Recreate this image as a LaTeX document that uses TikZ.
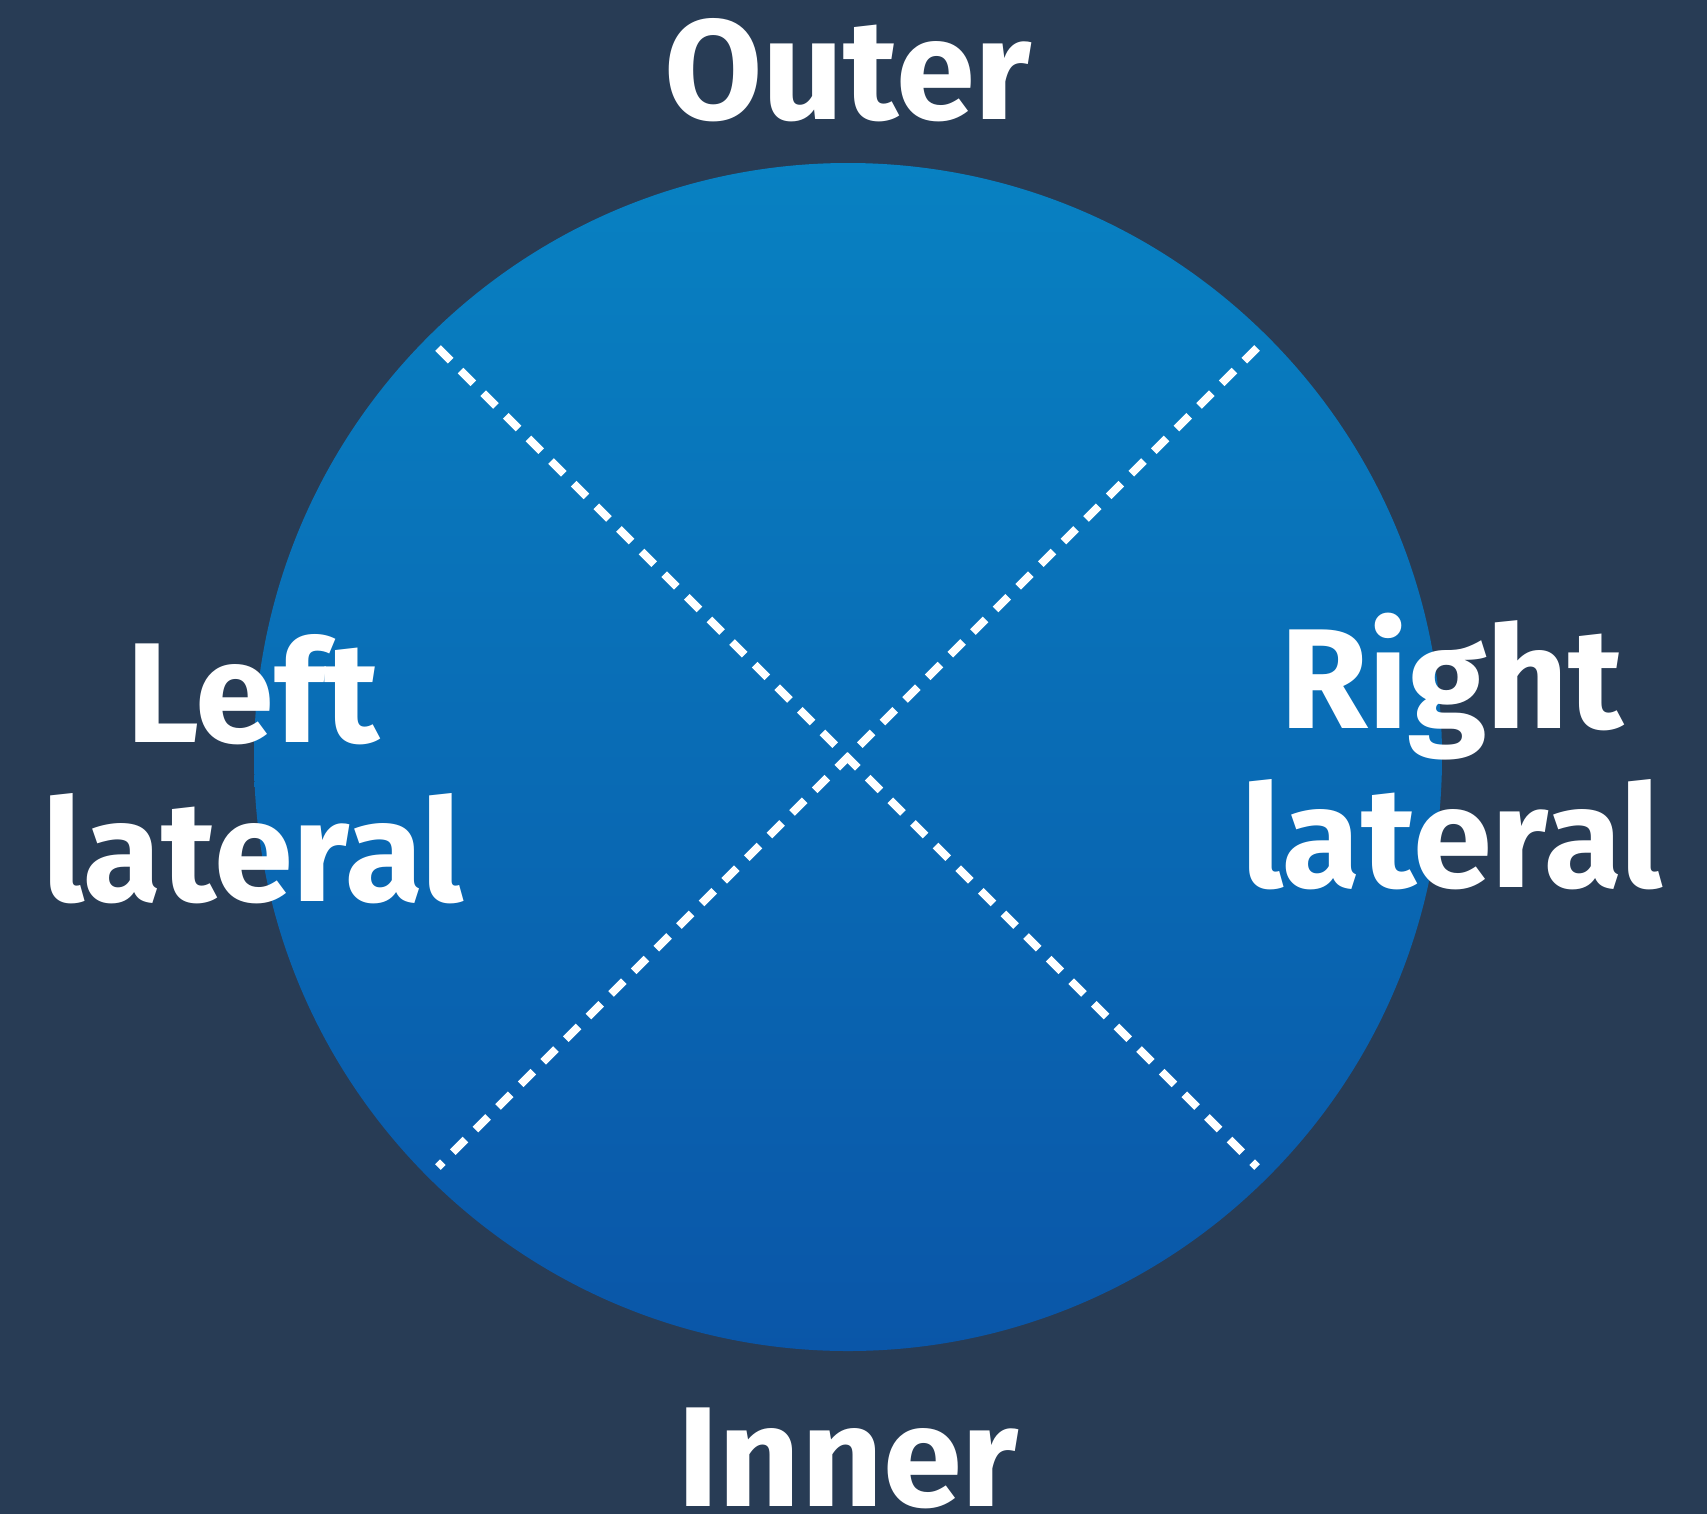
\documentclass[tikz,border=0pt]{standalone}
\usepackage{fontspec}
\setmainfont{Fira Sans}
\usepackage{tikz}
\usetikzlibrary{calc}
\definecolor{NavyBg}{RGB}{40,60,85}
\definecolor{DiscTop}{RGB}{8,129,194}
\definecolor{DiscBottom}{RGB}{10,86,168}

\begin{document}
\begin{tikzpicture}[
	lbl/.style={text=white, font=\fontsize{40.5}{45.2}\selectfont\bfseries, inner sep=0pt, align=center},
	cut/.style={white, line width=2.3pt, dash pattern=on 5.1pt off 4pt}
	]
		\fill[NavyBg] (0, 0) rectangle (17.07, 15.14);
		\coordinate (O) at (8.48, 7.57);
		\coordinate (A) at (4.38, 11.66);
		\coordinate (B) at (12.57, 11.66);
		\coordinate (C) at (12.57, 3.47);
		\coordinate (D) at (4.38, 3.47);
		
		\shade[top color=DiscTop, bottom color=DiscBottom] (O) circle (5.94);
		\draw[cut] (A) -- (C);
		\draw[cut] (B) -- (D);
		
		\node[lbl, anchor=base] (outer) at (8.48, 13.94) {Outer};
		\node[lbl, anchor=base] (inner) at (8.48, 0.08) {Inner};
		\node[lbl, anchor=base] (left) at (2.53, 6.13) {Left\\lateral};
		\node[lbl, anchor=base] (right) at (14.52, 6.27) {Right\\lateral};
	\end{tikzpicture}
\end{document}
